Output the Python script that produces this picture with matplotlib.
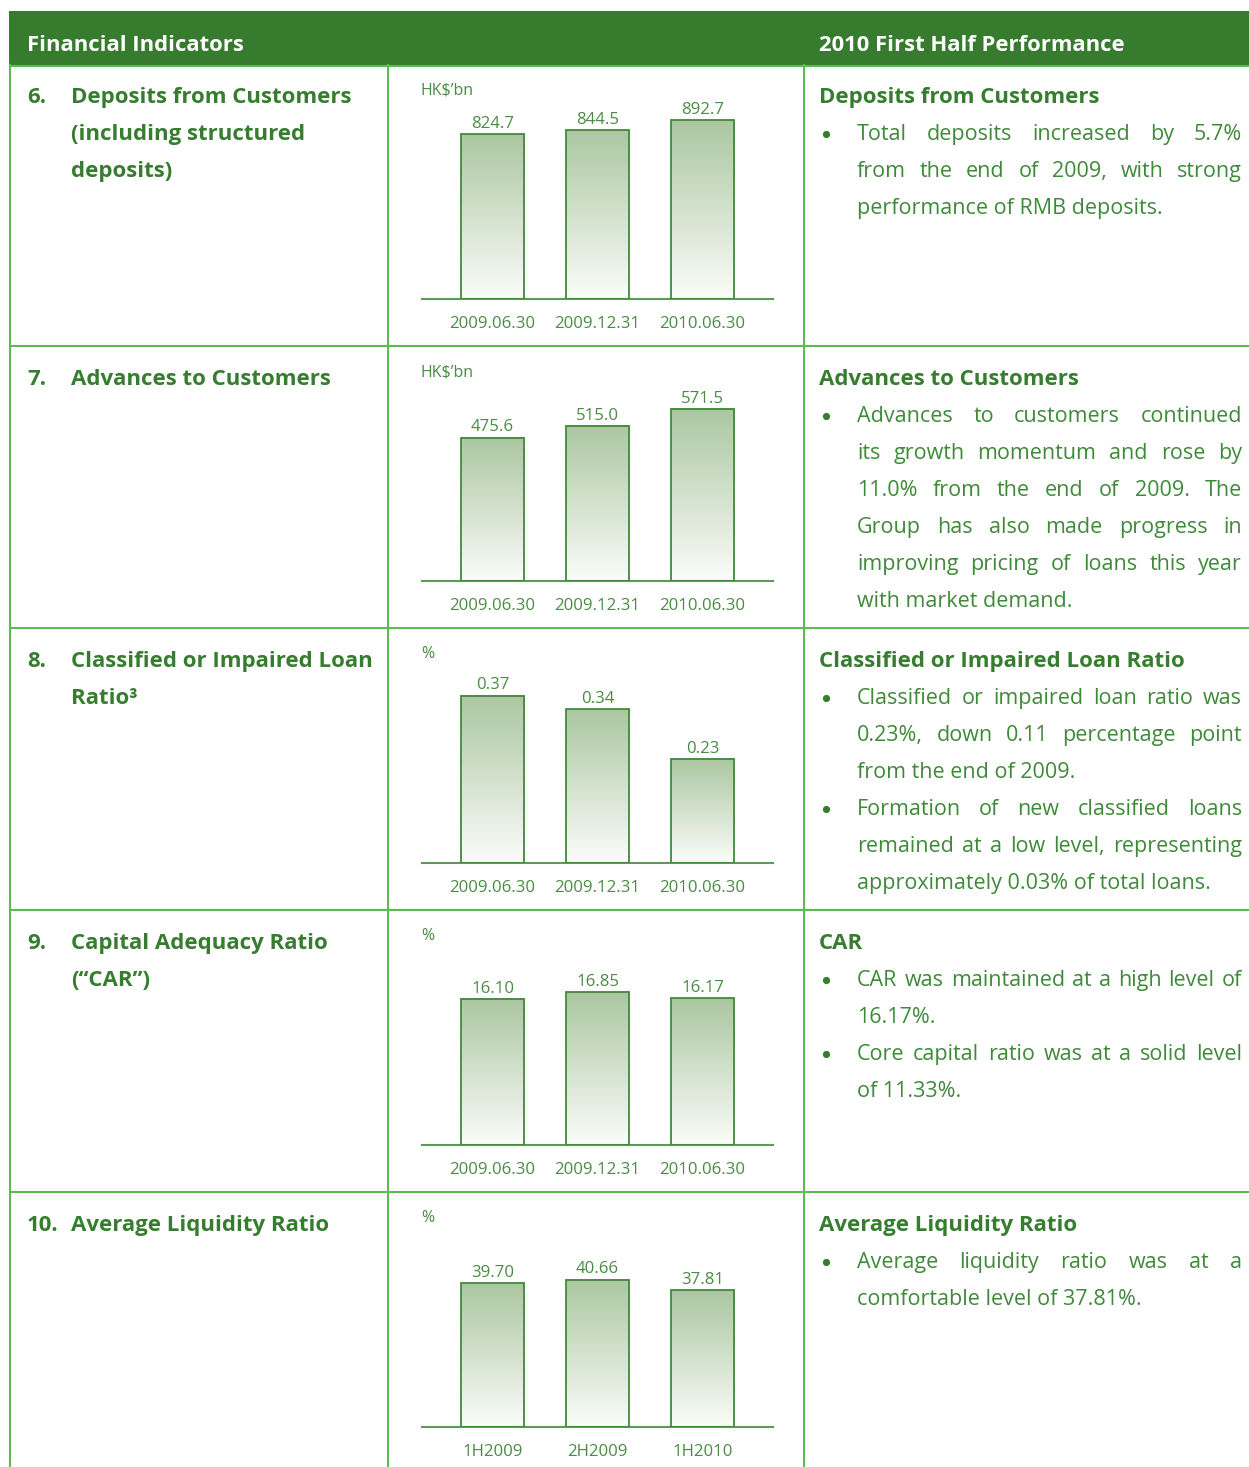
import matplotlib
matplotlib.use("Agg")
import matplotlib.pyplot as plt
import numpy as np
from matplotlib.colors import LinearSegmentedColormap
from matplotlib.patches import Rectangle

plt.rcParams["font.family"] = ["Open Sans", "DejaVu Sans"]

# ---------------- data ----------------
header_left = "Financial Indicators"
header_right = "2010 First Half Performance"

row_numbers = ["6.", "7.", "8.", "9.", "10."]
indicator_titles = [
    ["Deposits from Customers", "(including structured", "deposits)"],
    ["Advances to Customers"],
    ["Classified or Impaired Loan", "Ratio³"],
    ["Capital Adequacy Ratio", "(“CAR”)"],
    ["Average Liquidity Ratio"],
]
units = ["HK$’bn", "HK$’bn", "%", "%", "%"]

date_labels = ["2009.06.30", "2009.12.31", "2010.06.30"]
period_labels = ["1H2009", "2H2009", "1H2010"]

deposits = [824.7, 844.5, 892.7]
advances = [475.6, 515.0, 571.5]
impaired_ratio = [0.37, 0.34, 0.23]
car = [16.10, 16.85, 16.17]
liquidity = [39.70, 40.66, 37.81]

chart_values = [deposits, advances, impaired_ratio, car, liquidity]
chart_categories = [date_labels, date_labels, date_labels, date_labels, period_labels]
value_formats = ["{:.1f}", "{:.1f}", "{:.2f}", "{:.2f}", "{:.2f}"]
y_limits = [1000, 664, 0.442, 22.04, 55.2]

perf_titles = [
    "Deposits from Customers",
    "Advances to Customers",
    "Classified or Impaired Loan Ratio",
    "CAR",
    "Average Liquidity Ratio",
]
perf_bullets = [
    [["Total deposits increased by 5.7%",
      "from the end of 2009, with strong",
      "performance of RMB deposits."]],
    [["Advances to customers continued",
      "its growth momentum and rose by",
      "11.0% from the end of 2009. The",
      "Group has also made progress in",
      "improving pricing of loans this year",
      "with market demand."]],
    [["Classified or impaired loan ratio was",
      "0.23%, down 0.11 percentage point",
      "from the end of 2009."],
     ["Formation of new classified loans",
      "remained at a low level, representing",
      "approximately 0.03% of total loans."]],
    [["CAR was maintained at a high level of",
      "16.17%."],
     ["Core capital ratio was at a solid level",
      "of 11.33%."]],
    [["Average liquidity ratio was at a",
      "comfortable level of 37.81%."]],
]

# ---------------- style ----------------
W, H, DPI = 1249, 1467, 100
HEADER_GREEN = "#377B2E"
GRID_GREEN = "#5CBD4F"
TITLE_GREEN = "#367D2F"
BODY_GREEN = "#3F8A39"
CHART_GREEN = "#4A8C43"
EDGE_GREEN = "#428A3B"
BAR_TOP = "#ABC7A0"

TITLE_FS = 16
BODY_FS = 15.5
CHART_FS = 12.1

ROW_TOP0 = 65
ROW_H = 282
LINE_DY = 37

fig = plt.figure(figsize=(W / DPI, H / DPI), dpi=DPI)
fig.patch.set_facecolor("white")
bg = fig.add_axes([0, 0, 1, 1])
bg.set_xlim(0, W)
bg.set_ylim(H, 0)
bg.axis("off")
bg.set_zorder(0)

renderer = fig.canvas.get_renderer()

# header
bg.add_patch(Rectangle((9, 11), W - 9, 54, facecolor=HEADER_GREEN, edgecolor="none"))
bg.text(27, 51, header_left, color="white", fontsize=15.8, fontweight="bold", va="baseline")
bg.text(819, 51, header_right, color="white", fontsize=15.8, fontweight="bold", va="baseline")

# grid lines
lw = 1.5
bg.plot([10, W], [66, 66], color=GRID_GREEN, lw=lw)
for x in [10, 388, 804]:
    bg.plot([x, x], [65, H], color=GRID_GREEN, lw=lw)
for r in range(1, 5):
    y = ROW_TOP0 + r * ROW_H - 1
    bg.plot([10, W], [y, y], color=GRID_GREEN, lw=lw)


def draw_lines(lines, x0, x1, y0, justify, **kw):
    """Draw lines of text; all but the last line are justified between x0 and x1."""
    for i, line in enumerate(lines):
        y = y0 + i * LINE_DY
        words = line.split(" ")
        if (not justify) or i == len(lines) - 1 or len(words) == 1:
            bg.text(x0, y, line, va="baseline", ha="left", **kw)
            continue
        texts = [bg.text(0, y, w, va="baseline", ha="left", **kw) for w in words]
        widths = [t.get_window_extent(renderer).width for t in texts]
        gap = (x1 - x0 - sum(widths)) / (len(words) - 1)
        x = x0
        for t, w in zip(texts, widths):
            t.set_x(x)
            x += w + gap


cmap = LinearSegmentedColormap.from_list("bar", ["#FBFCFA", BAR_TOP])
grad = np.linspace(0, 1, 256).reshape(-1, 1)

for r in range(5):
    top = ROW_TOP0 + r * ROW_H
    base = top + 38
    # left column
    bg.text(27, base, row_numbers[r], color=TITLE_GREEN, fontsize=TITLE_FS,
            fontweight="bold", va="baseline")
    draw_lines(indicator_titles[r], 71, 378, base, False,
               color=TITLE_GREEN, fontsize=TITLE_FS, fontweight="bold")

    # right column
    bg.text(819, base, perf_titles[r], color=TITLE_GREEN, fontsize=TITLE_FS,
            fontweight="bold", va="baseline")
    y = base + LINE_DY
    for para in perf_bullets[r]:
        bg.plot([826], [y - 6], marker="o", markersize=5.2, color=TITLE_GREEN,
                markeredgewidth=0)
        draw_lines(para, 857, 1242, y, True, color=BODY_GREEN, fontsize=BODY_FS)
        y += LINE_DY * len(para)

    # unit label
    bg.text(421, top + 29, units[r], color=CHART_GREEN, fontsize=11.5, va="baseline")

    # chart
    baseline = top + 234
    ax_h = 200
    ax = fig.add_axes([422 / W, (H - baseline) / H, 351 / W, ax_h / H])
    ax.set_zorder(2)
    ax.patch.set_alpha(0)
    vals = chart_values[r]
    xs = np.arange(len(vals))
    bw = 0.6
    for xi, v in zip(xs, vals):
        ax.imshow(grad, extent=(xi - bw / 2, xi + bw / 2, 0, v), origin="lower",
                  cmap=cmap, aspect="auto", zorder=1, interpolation="bilinear")
    ax.bar(xs, vals, width=bw, facecolor="none", edgecolor=EDGE_GREEN,
           linewidth=1.3, zorder=3)
    for xi, v in zip(xs, vals):
        ax.annotate(value_formats[r].format(v), (xi, v), xytext=(0, 4.5),
                    textcoords="offset points", ha="center", va="baseline",
                    color=CHART_GREEN, fontsize=CHART_FS)
    ax.set_xlim(-0.6714, 2.6714)
    ax.set_ylim(0, y_limits[r])
    ax.set_xticks(xs)
    ax.set_xticklabels(chart_categories[r], color=CHART_GREEN, fontsize=CHART_FS)
    ax.tick_params(axis="x", length=0, pad=12)
    ax.set_yticks([])
    for s in ["left", "right", "top"]:
        ax.spines[s].set_visible(False)
    ax.spines["bottom"].set_color("#5E9A57")
    ax.spines["bottom"].set_linewidth(1.5)

fig.savefig("out.png", dpi=DPI, facecolor="white")
